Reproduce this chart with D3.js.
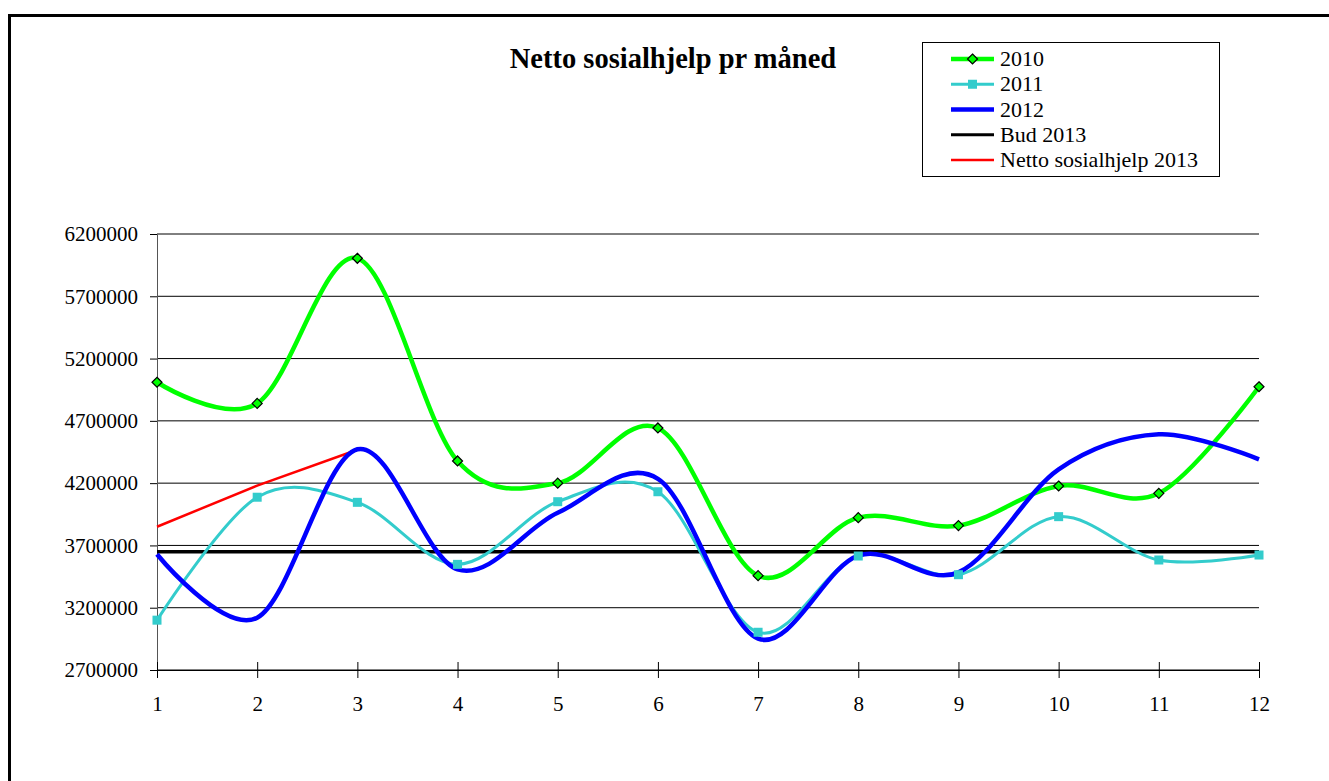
<!DOCTYPE html>
<html><head><meta charset="utf-8">
<script src="https://cdn.jsdelivr.net/npm/d3@7"></script>
<style>body{margin:0;background:#fff;} svg{display:block;}</style>
</head><body>
<svg id="c" width="1329" height="781"></svg>
<script>
const months = [1,2,3,4,5,6,7,8,9,10,11,12];
const yTicks = [2700000,3200000,3700000,4200000,4700000,5200000,5700000,6200000];
const s2010 = [5010000,4840000,6005000,4378000,4200000,4643000,3457000,3923000,3859000,4177000,4118000,4974000];
const s2011 = [3100000,4087000,4046000,3548000,4051000,4131000,3003000,3615000,3465000,3931000,3583000,3623000];
const s2012 = [3629000,3120000,4472000,3508000,3962000,4235000,2952000,3618000,3484000,4310000,4592000,4391000];
const bud2013 = [3650000,3650000,3650000,3650000,3650000,3650000,3650000,3650000,3650000,3650000,3650000,3650000];
const netto2013 = [3850000,4180000,4468000];
const legendNames = ["2010","2011","2012","Bud 2013","Netto sosialhjelp 2013"];

const svg = d3.select("#c");
const font = "'Liberation Serif','Times New Roman',serif";
const x = d3.scaleLinear().domain([1,12]).range([157,1259]);
const y = d3.scaleLinear().domain([2700000,6200000]).range([670,234]);

// outer frame
svg.append("path").attr("d","M9.5,781 L9.5,15.5 L1329,15.5").attr("fill","none").attr("stroke","#000").attr("stroke-width",3);

// gridlines
svg.append("g").selectAll("line").data(yTicks).join("line")
  .attr("x1",157).attr("x2",1259).attr("y1",d=>y(d)).attr("y2",d=>y(d))
  .attr("stroke","#000").attr("stroke-width",1);

// y axis
const ya = svg.append("g").attr("transform","translate(157,0)")
  .call(d3.axisLeft(y).tickValues(yTicks).tickSize(7).tickPadding(12).tickFormat(d3.format("d")));
ya.select(".domain").attr("stroke","#555");
ya.selectAll("text").attr("font-family",font).attr("font-size",21).attr("fill","#000");
ya.selectAll(".tick line").attr("stroke","#000");

// x axis
const xa = svg.append("g").attr("transform","translate(0,670)")
  .call(d3.axisBottom(x).tickValues(months).tickSize(8).tickPadding(18).tickFormat(d3.format("d")));
xa.select(".domain").attr("stroke","#000");
xa.selectAll(".tick line").attr("y1",-8).attr("stroke","#000");
xa.selectAll("text").attr("font-family",font).attr("font-size",21).attr("fill","#000");

const smooth = d3.line().x((d,i)=>x(months[i])).y(d=>y(d)).curve(d3.curveCardinal.tension(0));
const straight = d3.line().x((d,i)=>x(months[i])).y(d=>y(d));

svg.append("path").attr("d",straight(bud2013)).attr("fill","none").attr("stroke","#000").attr("stroke-width",3.5);
svg.append("path").attr("d",straight(netto2013)).attr("fill","none").attr("stroke","#ff0000").attr("stroke-width",2.5);
svg.append("path").attr("d",smooth(s2011)).attr("fill","none").attr("stroke","#33cccc").attr("stroke-width",3);
svg.append("path").attr("d",smooth(s2010)).attr("fill","none").attr("stroke","#00ff00").attr("stroke-width",4.5);
svg.append("path").attr("d",smooth(s2012)).attr("fill","none").attr("stroke","#0000ff").attr("stroke-width",4.5);

// markers
svg.append("g").selectAll("rect").data(s2011).join("rect")
  .attr("x",(d,i)=>x(months[i])-4.5).attr("y",d=>y(d)-4.5).attr("width",9).attr("height",9).attr("fill","#33cccc");
svg.append("g").selectAll("path").data(s2010).join("path")
  .attr("d",(d,i)=>{const cx=x(months[i]),cy=y(d);return `M${cx},${cy-5}L${cx+5},${cy}L${cx},${cy+5}L${cx-5},${cy}Z`;})
  .attr("fill","#00ff00").attr("stroke","#000").attr("stroke-width",1.2);

// title
svg.append("text").attr("x",673).attr("y",68).attr("text-anchor","middle")
  .attr("font-family",font).attr("font-weight","bold").attr("font-size",28.5).text("Netto sosialhjelp pr måned");

// legend
const lg = svg.append("g");
lg.append("rect").attr("x",922.5).attr("y",42.5).attr("width",297).attr("height",134).attr("fill","#fff").attr("stroke","#000");
const lstyles = [
  {c:"#00ff00",w:4.5,m:"d"},{c:"#33cccc",w:3,m:"s"},{c:"#0000ff",w:4.5,m:null},{c:"#000",w:3,m:null},{c:"#ff0000",w:2.5,m:null}];
const ly = d3.scaleLinear().domain([0,4]).range([59,160]);
legendNames.forEach((n,i)=>{
  const yy = ly(i), st = lstyles[i];
  lg.append("line").attr("x1",951).attr("x2",994).attr("y1",yy).attr("y2",yy).attr("stroke",st.c).attr("stroke-width",st.w);
  if(st.m==="d") lg.append("path").attr("d",`M972.5,${yy-5}L977.5,${yy}L972.5,${yy+5}L967.5,${yy}Z`).attr("fill","#00ff00").attr("stroke","#000").attr("stroke-width",1.2);
  if(st.m==="s") lg.append("rect").attr("x",968).attr("y",yy-4.5).attr("width",9).attr("height",9).attr("fill","#33cccc");
  lg.append("text").attr("x",1000).attr("y",yy+7).attr("font-family",font).attr("font-size",22).text(n);
});
</script>
</body></html>
